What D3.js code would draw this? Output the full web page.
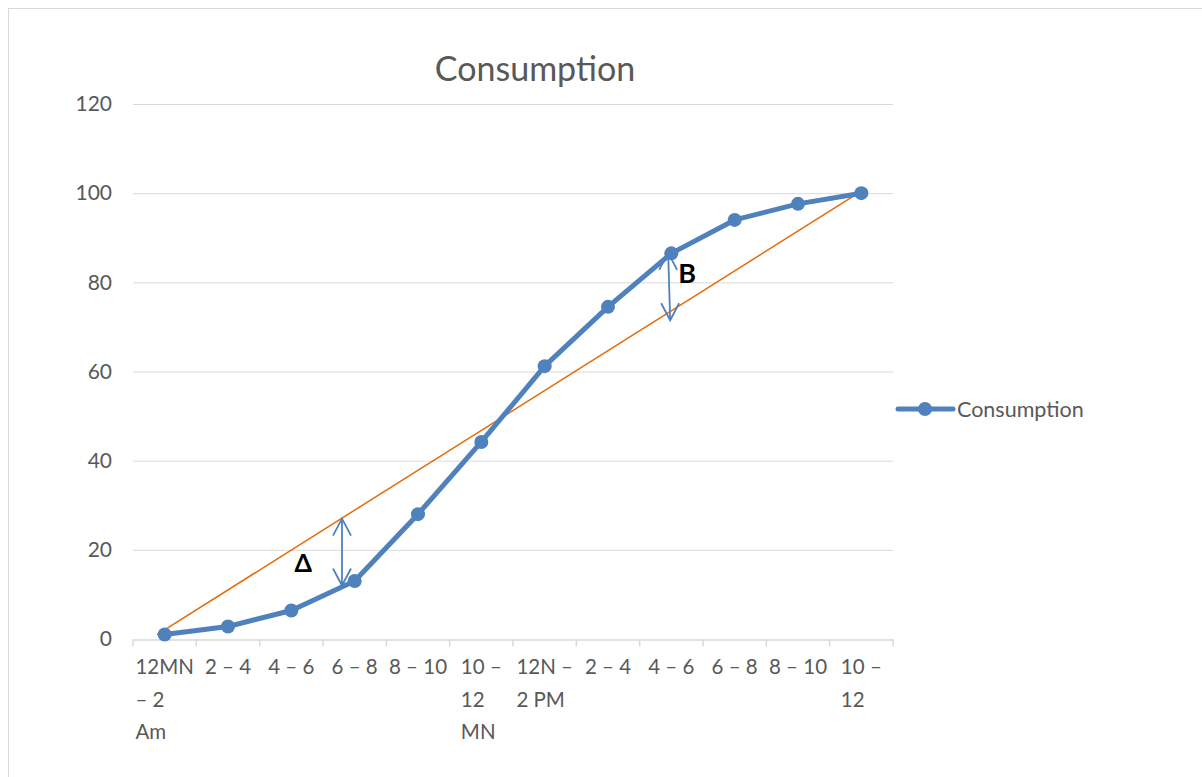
<!DOCTYPE html>
<html><head><meta charset="utf-8">
<script src="https://cdn.jsdelivr.net/npm/d3@7"></script>
<style>body{margin:0;background:#fff}text{font-family:Lato,sans-serif}</style>
</head><body>
<svg id="c" width="1202" height="777"></svg>
<script>
const categories = [["12MN","– 2","Am"],["2 – 4"],["4 – 6"],["6 – 8"],["8 – 10"],["10 –","12","MN"],["12N –","2 PM"],["2 – 4"],["4 – 6"],["6 – 8"],["8 – 10"],["10 –","12"]];
const consumption = [1, 2.8, 6.4, 13, 28, 44.2, 61.2, 74.5, 86.5, 94, 97.6, 100];
const equalityLine = [{pos:-0.12, v:1}, {pos:10.95, v:100}];
const yTicks = [0,20,40,60,80,100,120];
const annotations = [
  {label:"Δ", pos:2.8, from:12, to:27, lx:-0.75, lv:15.0, fs:25},
  {label:"B", pos:7.95, from:86.6, to:71.5, lx:0.16, lv:79.9, fs:27}
];

const svg = d3.select("#c");
svg.append("rect").attr("x",8.5).attr("y",8.5).attr("width",1200).attr("height",780).attr("fill","none").attr("stroke","#d9d9d9");
const L=133,R=893,T=104,B=639;
const x = d3.scaleBand().domain(d3.range(categories.length)).range([L,R]);
const xc = i => x(0) + x.bandwidth()*(i+0.5);
const y = d3.scaleLinear().domain([0,120]).range([B,T]);
const FS = 20.5;

svg.append("text").attr("x",535).attr("y",81).attr("text-anchor","middle").attr("font-size",34).attr("fill","#595959").text("Consumption");

// grid
svg.append("g").selectAll("line").data(yTicks.filter(d=>d>0)).join("line")
  .attr("x1",L).attr("x2",R).attr("y1",d=>y(d)+0.5).attr("y2",d=>y(d)+0.5).attr("stroke","#d9d9d9").attr("stroke-width",1);
// y labels
const yAxis = d3.axisLeft(y).tickValues(yTicks).tickSize(0).tickPadding(21);
const gy = svg.append("g").attr("transform",`translate(${L},0)`).call(yAxis);
gy.select(".domain").remove();
gy.selectAll("text").attr("font-size",21).attr("fill","#595959").attr("font-family","Lato");

// x axis
const xAxis = d3.axisBottom(x).tickSize(0).tickFormat("");
const gx = svg.append("g").attr("transform",`translate(0,${B+0.5})`).call(xAxis);
gx.select(".domain").attr("stroke","#d9d9d9").attr("stroke-width",1.5);
gx.selectAll(".tick").remove();
gx.selectAll(".bt").data(d3.range(categories.length+1)).join("line").attr("class","bt")
  .attr("x1",i=>L+i*x.bandwidth()).attr("x2",i=>L+i*x.bandwidth()).attr("y1",0).attr("y2",7).attr("stroke","#d9d9d9").attr("stroke-width",1.5);
const lab = svg.append("g");
categories.forEach((c,i)=>{
  const t = lab.append("text").attr("x",xc(i)).attr("y",B+35).attr("font-size",FS).attr("fill","#595959").attr("text-anchor","middle");
  c.forEach((s,j)=>t.append("tspan").attr("x",xc(i)).attr("dy",j?32.5:0).text(s));
});
lab.selectAll("text").each(function(d,i){
  const c=categories[i]; if(c.length>1){
    const w = d3.select(this).select("tspan").node().getComputedTextLength();
    d3.select(this).attr("text-anchor","start").selectAll("tspan").attr("x",xc(i)-w/2);
  }
});

// equality line
svg.append("path").datum(equalityLine).attr("fill","none").attr("stroke","#e46c0a").attr("stroke-width",1.5)
  .attr("d",d3.line().x(d=>xc(d.pos)).y(d=>y(d.v)));

// consumption line
const blue="#4f81bd";
svg.append("path").datum(consumption).attr("fill","none").attr("stroke",blue).attr("stroke-width",5).attr("stroke-linejoin","round")
  .attr("d",d3.line().x((d,i)=>xc(i)).y(d=>y(d)));
svg.append("g").selectAll("circle").data(consumption).join("circle")
  .attr("cx",(d,i)=>xc(i)).attr("cy",d=>y(d)).attr("r",7).attr("fill",blue);

// annotations
function head(g,x0,y0,dir){
  g.append("path").attr("d",`M${x0-9},${y0-dir*17} L${x0},${y0} L${x0+9},${y0-dir*17}`).attr("fill","none").attr("stroke",blue).attr("stroke-width",1.8);
}
annotations.forEach(a=>{
  const g=svg.append("g");
  const X=xc(a.pos), y1=y(a.from), y2=y(a.to);
  const dx = a.label==="B"?2:0;
  g.append("line").attr("x1",X).attr("x2",X+dx).attr("y1",y1).attr("y2",y2).attr("stroke",blue).attr("stroke-width",1.8);
  head(g,X+dx,y2,y2<y1?-1:1);
  head(g,X,y1,y1<y2?-1:1);
  g.append("text").attr("x",X+a.lx*x.bandwidth()).attr("y",y(a.lv)).attr("font-size",a.fs).attr("font-weight","bold").attr("font-family","Open Sans").attr("fill","#000").text(a.label);
});

// legend
svg.append("line").attr("x1",898).attr("x2",953).attr("y1",409).attr("y2",409).attr("stroke",blue).attr("stroke-width",5).attr("stroke-linecap","round");
svg.append("circle").attr("cx",925).attr("cy",409).attr("r",7).attr("fill",blue);
svg.append("text").attr("x",957).attr("y",416.5).attr("font-size",21.5).attr("fill","#595959").text("Consumption");
</script>
</body></html>
